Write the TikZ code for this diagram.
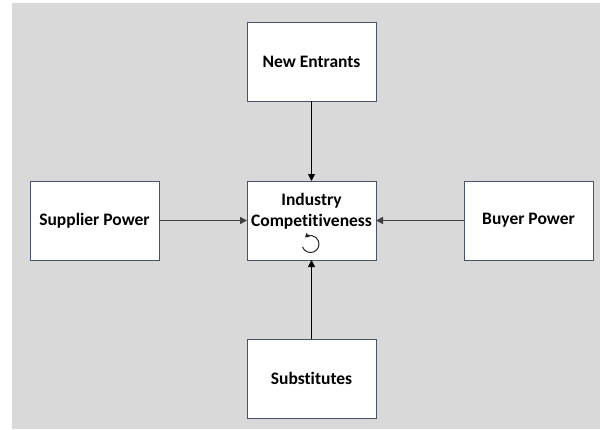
\documentclass[tikz,border=0pt]{standalone}
\usepackage{fontspec}
\setmainfont[Ligatures=NoCommon]{Carlito}
\usetikzlibrary{positioning,arrows.meta}

\definecolor{bggray}{RGB}{217,217,217}
\definecolor{boxedge}{RGB}{68,84,106}
\definecolor{arrowgray}{RGB}{64,64,64}

\tikzset{
	force/.style={draw=boxedge, line width=1pt, fill=white, minimum width=129pt,
		minimum height=79pt, inner sep=0pt, outer sep=0pt, align=center,
		font=\fontsize{17.5}{21}\selectfont\bfseries},
	pull/.style={-{Triangle[length=7pt,width=7pt]}, line width=1pt, black},
	push/.style={-{Triangle[length=7pt,width=7pt]}, line width=1.5pt, arrowgray},
	cycle mark/.style={-{Triangle[length=4pt,width=5pt]}, line width=1pt, black!85},
}

\begin{document}
\begin{tikzpicture}[x=1pt,y=-1pt,node distance=80pt and 88pt]
	\useasboundingbox (0,0) rectangle (600,429);
	\fill[bggray] (12,3) rectangle (600,429);
	
	\node[force] (comp) at (311.5,220.5) {Industry\\Competitiveness\\\vphantom{X}};
	\node[force, above=of comp] (entr) {New Entrants};
	\node[force, left=of comp] (supp) {Supplier Power};
	\node[force, right=of comp] (buyr) {Buyer Power};
	\node[force, below=79pt of comp] (subs) {Substitutes};
	
	% rotation mark under the label
	\draw[cycle mark] ([xshift=-1pt,yshift=-23.5pt]comp.center) ++(160:8.5) arc (160:-130:8.5);
	
	\draw[pull] (entr) -- (comp);
	\draw[pull] (subs) -- (comp);
	\draw[push] (supp) -- (comp);
	\draw[push] (buyr) -- (comp);
\end{tikzpicture}
\end{document}
